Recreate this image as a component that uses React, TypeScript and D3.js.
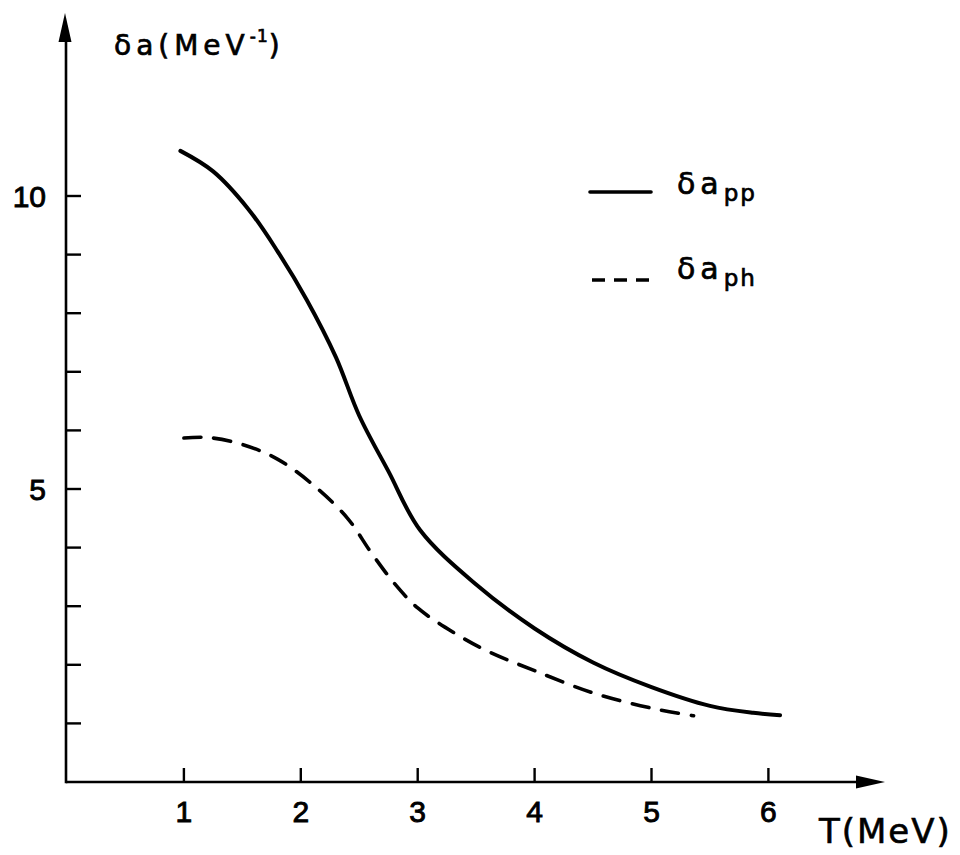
import React, { useEffect, useRef } from 'react';
import * as d3 from 'd3';

// delta a_pp (solid curve)
const ppT = [0.97, 1.25, 1.55, 1.8, 2.05, 2.3, 2.5, 2.75, 3.02, 3.5, 4.0, 4.5, 5.0, 5.5, 5.87, 6.1];
const ppVal = [10.77, 10.42, 9.78, 9.06, 8.23, 7.25, 6.25, 5.3, 4.3, 3.37, 2.62, 2.04, 1.62, 1.3, 1.18, 1.14];

// delta a_ph (dashed curve)
const phT = [1.0, 1.2, 1.5, 1.8, 2.1, 2.4, 2.6, 2.8, 3.0, 3.3, 3.6, 4.0, 4.5, 5.0, 5.36];
const phVal = [5.87, 5.88, 5.76, 5.51, 5.08, 4.5, 3.92, 3.39, 2.97, 2.56, 2.23, 1.9, 1.52, 1.26, 1.13];

const xTicks = [1, 2, 3, 4, 5, 6];
const yTicks = [1, 2, 3, 4, 5, 6, 7, 8, 9, 10];
const yTickLabels = [5, 10];

export default function App() {
  const ref = useRef<SVGSVGElement>(null);

  useEffect(() => {
    const width = 960;
    const height = 855;
    const svg = d3.select(ref.current);
    svg.selectAll('*').remove();

    const x = d3.scaleLinear().domain([0, 6]).range([67, 768.4]);
    const y = d3.scaleLinear().domain([0, 10]).range([782, 196]);

    const ink = '#000';

    // helper: slightly heavier lettering like the drafted original
    const heavy = (sel: any, w = 0.9) =>
      sel.attr('stroke', ink).attr('stroke-width', w).attr('fill', ink);

    // axes with arrow heads
    const axisG = svg.append('g');
    axisG.append('line')
      .attr('x1', x(0) - 1).attr('x2', 870)
      .attr('y1', y(0)).attr('y2', y(0))
      .attr('stroke', ink).attr('stroke-width', 2.6);
    axisG.append('line')
      .attr('x1', x(0) - 1).attr('x2', x(0) - 1)
      .attr('y1', y(0) + 1.3).attr('y2', 30)
      .attr('stroke', ink).attr('stroke-width', 2.6);
    axisG.append('path')
      .attr('d', `M885,${y(0)} L856,${y(0) - 6.5} L856,${y(0) + 6.5} Z`)
      .attr('fill', ink);
    axisG.append('path')
      .attr('d', `M${x(0) - 2},13 L${x(0) - 8.5},42 L${x(0) + 4.5},42 Z`)
      .attr('fill', ink);

    // x ticks (pointing up) and labels
    axisG.selectAll('.xtick')
      .data(xTicks)
      .enter()
      .append('line')
      .attr('x1', d => x(d)).attr('x2', d => x(d))
      .attr('y1', y(0)).attr('y2', y(0) - 14)
      .attr('stroke', ink).attr('stroke-width', 2.4);
    heavy(axisG.selectAll('.xlabel')
      .data(xTicks)
      .enter()
      .append('text')
      .attr('x', d => x(d))
      .attr('y', 822)
      .attr('text-anchor', 'middle')
      .style('font-family', 'Liberation Sans, Arial, sans-serif')
      .style('font-size', '30px')
      .text(d => d));

    // y ticks (pointing right) and labels
    axisG.selectAll('.ytick')
      .data(yTicks)
      .enter()
      .append('line')
      .attr('x1', x(0) - 1).attr('x2', x(0) + 14)
      .attr('y1', d => y(d)).attr('y2', d => y(d))
      .attr('stroke', ink).attr('stroke-width', 2.4);
    heavy(axisG.selectAll('.ylabel')
      .data(yTickLabels)
      .enter()
      .append('text')
      .attr('x', 46)
      .attr('y', d => y(d) + 11)
      .attr('text-anchor', 'end')
      .style('font-family', 'Liberation Sans, Arial, sans-serif')
      .style('font-size', '30px')
      .text(d => d));

    // axis titles
    const yTitle = heavy(svg.append('text')
      .attr('x', 114).attr('y', 55)
      .style('font-family', 'DejaVu Sans, sans-serif')
      .style('font-size', '28px')
      .style('letter-spacing', '5px'), 0.7);
    yTitle.append('tspan').text('δa(MeV');
    yTitle.append('tspan').attr('dy', -13).style('font-size', '17px').style('letter-spacing', '1px').text('-1');
    yTitle.append('tspan').attr('dy', 13).text(')');

    heavy(svg.append('text')
      .attr('x', 819).attr('y', 843)
      .style('font-family', 'DejaVu Sans, sans-serif')
      .style('font-size', '34px')
      .style('letter-spacing', '2px')
      .text('T(MeV)'), 0.6);

    // curves
    const line = d3.line<[number, number]>()
      .x(d => x(d[0]))
      .y(d => y(d[1]))
      .curve(d3.curveCatmullRom.alpha(0.5));

    const ppData = ppT.map((t, i) => [t, ppVal[i]] as [number, number]);
    const phData = phT.map((t, i) => [t, phVal[i]] as [number, number]);

    svg.append('path')
      .datum(ppData)
      .attr('d', line)
      .attr('fill', 'none')
      .attr('stroke', ink)
      .attr('stroke-width', 4)
      .attr('stroke-linecap', 'round');

    svg.append('path')
      .datum(phData)
      .attr('d', line)
      .attr('fill', 'none')
      .attr('stroke', ink)
      .attr('stroke-width', 3.6)
      .attr('stroke-dasharray', '17,13')
      .attr('stroke-linecap', 'round');

    // legend
    const legend = svg.append('g');
    legend.append('line')
      .attr('x1', 590).attr('x2', 651)
      .attr('y1', 192).attr('y2', 192)
      .attr('stroke', ink).attr('stroke-width', 3.6)
      .attr('stroke-linecap', 'round');
    legend.append('line')
      .attr('x1', 592).attr('x2', 652)
      .attr('y1', 280).attr('y2', 280)
      .attr('stroke', ink).attr('stroke-width', 3.4)
      .attr('stroke-dasharray', '13,9');

    const legendItems = [
      { y: 194, sub: 'pp' },
      { y: 279, sub: 'ph' },
    ];
    legendItems.forEach(item => {
      const t = heavy(legend.append('text')
        .attr('x', 677).attr('y', item.y)
        .style('font-family', 'DejaVu Sans, sans-serif')
        .style('font-size', '30px')
        .style('letter-spacing', '5px'), 0.7);
      t.append('tspan').text('δa');
      t.append('tspan').attr('dy', 7).style('font-size', '23px').style('letter-spacing', '2px').text(item.sub);
    });

    svg.attr('width', width).attr('height', height);
  }, []);

  return (
    <svg
      ref={ref}
      width={960}
      height={855}
      style={{ position: 'absolute', left: 0, top: 0, background: 'white' }}
    />
  );
}
